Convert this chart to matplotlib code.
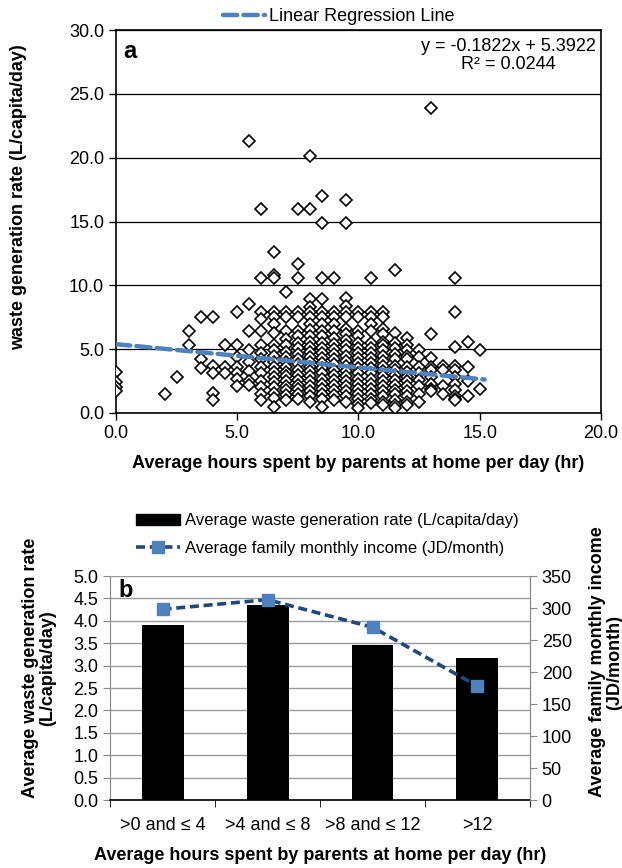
import numpy as np
import matplotlib
matplotlib.use("Agg")
import matplotlib.pyplot as plt
from matplotlib.lines import Line2D
from matplotlib.patches import Patch

plt.rcParams["font.family"] = ["Liberation Sans", "DejaVu Sans"]

# ---- panel a: scatter of waste rate vs hours at home ----
hours_cols = [0.0, 2.0, 2.5, 3.0, 3.5, 4.0, 4.5, 5.0, 5.5, 6.0, 6.5, 7.0, 7.5, 8.0,
              8.5, 9.0, 9.5, 10.0, 10.5, 11.0, 11.5, 12.0, 12.5, 13.0, 13.5, 14.0,
              14.5, 15.0]
rates_cols = [
    [3.2, 2.4, 2.0, 1.7],
    [1.5],
    [2.8],
    [6.4, 5.3],
    [7.5, 4.2, 3.5],
    [7.5, 3.7, 3.1, 1.6, 1.0],
    [5.3, 3.6, 3.1],
    [7.9, 5.3, 4.4, 3.6, 3.1, 2.7, 2.1],
    [21.3, 8.5, 6.4, 4.9, 4.0, 3.3, 2.5, 2.2],
    [16.0, 10.6, 7.9, 7.4, 6.4, 5.3, 4.7, 4.2, 3.6, 3.1, 2.5, 2.0, 1.5, 1.0],
    [12.6, 10.8, 10.6, 7.9, 7.5, 7.0, 6.3, 5.3, 4.9, 4.5, 4.0, 3.6, 3.2, 2.8, 2.4,
     2.0, 1.6, 1.2, 0.5],
    [9.5, 7.9, 7.5, 6.4, 5.8, 5.3, 4.8, 4.4, 4.0, 3.6, 3.2, 2.9, 2.5, 2.1, 1.8, 1.4, 1.0],
    [16.0, 11.7, 10.6, 7.9, 7.5, 6.4, 6.0, 5.5, 5.1, 4.6, 4.2, 3.8, 3.4, 3.0, 2.6,
     2.2, 1.9, 1.5, 1.1],
    [20.1, 16.0, 8.9, 8.3, 7.9, 7.5, 7.0, 6.5, 6.0, 5.6, 5.2, 4.8, 4.4, 4.0, 3.6,
     3.3, 2.9, 2.5, 2.1, 1.7, 1.3, 0.9],
    [17.0, 14.9, 10.6, 8.9, 7.9, 7.5, 7.0, 6.4, 6.0, 5.5, 5.1, 4.7, 4.3, 3.9, 3.5,
     3.1, 2.7, 2.3, 1.9, 1.5, 1.1, 0.5],
    [10.6, 7.9, 7.5, 7.0, 6.4, 5.9, 5.4, 5.0, 4.6, 4.2, 3.8, 3.4, 3.0, 2.6, 2.2,
     1.8, 1.4, 1.0],
    [16.7, 14.9, 9.0, 8.4, 7.9, 7.5, 6.6, 6.2, 5.7, 5.3, 4.9, 4.5, 4.1, 3.7, 3.3,
     2.9, 2.5, 2.1, 1.7, 1.3, 0.9],
    [7.9, 7.5, 6.4, 6.0, 5.5, 5.1, 4.7, 4.3, 3.9, 3.5, 3.1, 2.7, 2.3, 1.9, 1.5,
     1.1, 0.7, 0.4],
    [10.6, 7.9, 7.5, 7.0, 6.4, 5.5, 5.1, 4.7, 4.3, 3.9, 3.5, 3.1, 2.7, 2.3, 1.9,
     1.5, 1.1, 0.8],
    [7.9, 7.5, 6.6, 6.2, 5.6, 5.3, 4.9, 4.5, 4.1, 3.7, 3.3, 2.9, 2.5, 2.1, 1.7,
     1.3, 0.9, 0.6],
    [11.2, 6.3, 5.5, 5.1, 4.6, 4.2, 3.7, 3.4, 3.0, 2.6, 2.2, 1.8, 1.5, 1.0, 0.6, 0.4],
    [5.9, 5.3, 4.9, 4.5, 4.2, 3.6, 3.2, 2.8, 2.5, 2.1, 1.7, 1.3, 0.9, 0.6],
    [4.9, 4.4, 3.6, 3.1, 2.6, 2.1, 1.5, 0.9],
    [23.9, 6.2, 4.3, 3.6, 3.4, 2.8, 2.3, 1.9, 1.7],
    [3.7, 3.4, 2.1, 1.5],
    [10.6, 7.9, 5.2, 3.7, 3.4, 2.8, 2.3, 1.8, 1.3, 1.1, 1.0],
    [5.6, 3.6, 2.5, 1.3],
    [4.9, 1.9],
]
slope, intercept = -0.1822, 5.3922
fit_range = [0.0, 15.2]

# ---- panel b: grouped averages ----
groups = [">0 and \u2264 4", ">4 and \u2264 8", ">8 and \u2264 12", ">12"]
avg_rate = [3.91, 4.36, 3.45, 3.16]
avg_income = [298, 313, 270, 178]

FS = 13
fig = plt.figure(figsize=(6.22, 8.68), dpi=100)

# top panel
ax1 = fig.add_axes([0.1865, 0.5242, 0.7797, 0.4412])
xs = np.concatenate([[h] * len(r) for h, r in zip(hours_cols, rates_cols)])
ys = np.concatenate(rates_cols)
ax1.plot(xs, ys, linestyle="none", marker="D", markersize=6, markerfacecolor="white",
         markeredgecolor="black", markeredgewidth=1.2, zorder=3)
fx = np.array(fit_range)
ax1.plot(fx, slope * fx + intercept, color="#4f81bd", lw=3.2, dashes=(3.2, 1.4),
         dash_capstyle="round", zorder=4)
ax1.set_xlim(0, 20)
ax1.set_ylim(0, 30)
ax1.set_xticks([0, 5, 10, 15, 20])
ax1.set_xticklabels(["0.0", "5.0", "10.0", "15.0", "20.0"])
ax1.set_yticks(np.arange(0, 31, 5))
ax1.set_yticklabels([f"{v:.1f}" for v in np.arange(0, 31, 5)])
ax1.yaxis.grid(True, color="black", lw=0.9)
ax1.set_axisbelow(True)
ax1.tick_params(labelsize=FS, direction="out", length=5, width=1)
for s in ax1.spines.values():
    s.set_linewidth(1.2)
ax1.set_xlabel("Average hours spent by parents at home per day (hr)", fontsize=FS,
               fontweight="bold")
ax1.xaxis.set_label_coords(0.5, -0.11)
ax1.set_ylabel("waste generation rate (L/capita/day)", fontsize=FS, fontweight="bold")
ax1.yaxis.set_label_coords(-0.183, 0.564)
ax1.text(0.015, 0.975, "a", transform=ax1.transAxes, fontsize=17, fontweight="bold",
         va="top")
ax1.text(0.99, 0.978, f"y = {slope}x + {intercept}\nR\u00b2 = 0.0244",
         transform=ax1.transAxes, fontsize=FS, ha="right", va="top",
         multialignment="center", linespacing=1.05)
fig.legend(handles=[Line2D([], [], color="#4f81bd", lw=3.2, dashes=(3.2, 1.4),
                           dash_capstyle="round")],
           labels=["Linear Regression Line"], loc="center", bbox_to_anchor=(0.545, 0.981),
           frameon=False, fontsize=FS, handlelength=2.3, handletextpad=0.25)

# bottom panel
ax2 = fig.add_axes([0.177, 0.0783, 0.675, 0.2581])
pos = np.arange(len(groups))
ax2.bar(pos, avg_rate, width=0.4, color="black", zorder=3)
ax2.set_xlim(-0.5, len(groups) - 0.5)
ax2.set_ylim(0, 5)
ax2.set_yticks(np.arange(0, 5.01, 0.5))
ax2.set_yticklabels([f"{v:.1f}" for v in np.arange(0, 5.01, 0.5)])
ax2.set_xticks(pos)
ax2.set_xticklabels(groups)
ax2.set_xticks(np.arange(-0.5, len(groups), 1), minor=True)
ax2.tick_params(axis="x", which="major", length=0, pad=12, labelsize=FS)
ax2.tick_params(axis="x", which="minor", length=5, direction="out", color="black")
ax2.tick_params(axis="y", labelsize=FS, direction="out", length=5, color="#888888")
ax2.yaxis.grid(True, color="#999999", lw=1)
ax2.set_axisbelow(True)
ax2.spines["top"].set_visible(False)
ax2.spines["left"].set_color("#888888")
ax2.spines["right"].set_color("#888888")
ax2.spines["bottom"].set_linewidth(1.2)
ax2.set_ylabel("Average waste generation rate\n(L/capita/day)", fontsize=FS,
               fontweight="bold", linespacing=1.05)
ax2.yaxis.set_label_coords(-0.128, 0.59)
ax2.set_xlabel("Average hours spent by parents at home per day (hr)", fontsize=FS,
               fontweight="bold")
ax2.xaxis.set_label_coords(0.5, -0.21)
ax2.text(0.02, 0.985, "b", transform=ax2.transAxes, fontsize=17, fontweight="bold",
         va="top")

ax3 = ax2.twinx()
ax3.plot(pos, avg_income, color="#1f497d", lw=2.6, dashes=(2.5, 1.3), marker="s",
         markersize=9, markerfacecolor="#4f81bd", markeredgecolor="#4f81bd", zorder=5)
ax3.set_ylim(0, 350)
ax3.set_yticks(np.arange(0, 351, 50))
ax3.tick_params(axis="y", labelsize=FS, direction="out", length=5, color="#888888")
for s in ax3.spines.values():
    s.set_visible(False)
ax3.spines["right"].set_visible(True)
ax3.spines["right"].set_color("#888888")
ax3.set_ylabel("Average family monthly income\n(JD/month)", fontsize=FS,
               fontweight="bold", linespacing=1.05)
ax3.yaxis.set_label_coords(1.14, 0.616)

fig.legend(handles=[Patch(color="black"),
                    Line2D([], [], color="#1f497d", lw=2.6, dashes=(2.5, 1.3), marker="s",
                           markersize=9, markerfacecolor="#4f81bd",
                           markeredgecolor="#4f81bd")],
           labels=["Average waste generation rate (L/capita/day)",
                   "Average family monthly income (JD/month)"],
           loc="upper left", bbox_to_anchor=(0.195, 0.426), frameon=False, fontsize=12,
           handlelength=2.65, handletextpad=0.3, labelspacing=0.75)

fig.savefig("out.png", dpi=100)
